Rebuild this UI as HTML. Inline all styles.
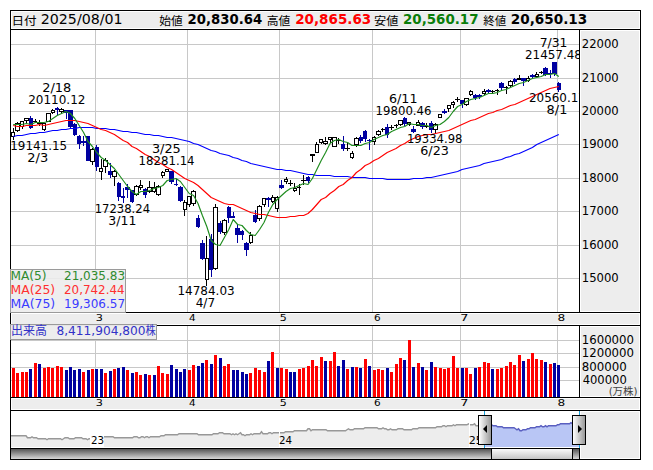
<!DOCTYPE html>
<html><head><meta charset="utf-8"><title>chart</title>
<style>html,body{margin:0;padding:0;background:#fff;width:653px;height:470px;overflow:hidden}</style>
</head><body>
<svg width="653" height="470" viewBox="0 0 653 470" style="display:block">
<defs><clipPath id="plot"><rect x="11" y="30" width="568" height="282"/></clipPath><clipPath id="vplot"><rect x="11" y="326" width="568" height="71"/></clipPath><linearGradient id="gd" x1="0" y1="0" x2="0" y2="1"><stop offset="0" stop-color="#555"/><stop offset="1" stop-color="#d8d8d8"/></linearGradient><linearGradient id="gl" x1="0" y1="0" x2="0" y2="1"><stop offset="0" stop-color="#fafafa"/><stop offset="1" stop-color="#c4c4c4"/></linearGradient><linearGradient id="gh" x1="0" y1="0" x2="1" y2="0"><stop offset="0" stop-color="#fff"/><stop offset="1" stop-color="#999"/></linearGradient></defs>
<rect x="0" y="0" width="653" height="470" fill="#fff" />
<g shape-rendering="crispEdges">
<rect x="11" y="11" width="629" height="18" fill="#fff" />
<rect x="12" y="12" width="627" height="16" fill="#ededed" />
<rect x="10" y="10" width="631" height="1" fill="#000" />
<rect x="10" y="459" width="631" height="1" fill="#000" />
<rect x="10" y="10" width="1" height="450" fill="#000" />
<rect x="640" y="10" width="1" height="450" fill="#000" />
<rect x="10" y="29" width="631" height="1" fill="#000" />
<rect x="580" y="30" width="60" height="282" fill="#fff" />
<rect x="581" y="31" width="58" height="280" fill="#ededed" />
<rect x="579" y="30" width="1" height="282" fill="#000" />
<rect x="11" y="44" width="568" height="1" fill="#c8c8c8" />
<rect x="11" y="78" width="568" height="1" fill="#c8c8c8" />
<rect x="11" y="111" width="568" height="1" fill="#c8c8c8" />
<rect x="11" y="144" width="568" height="1" fill="#c8c8c8" />
<rect x="11" y="178" width="568" height="1" fill="#c8c8c8" />
<rect x="11" y="211" width="568" height="1" fill="#c8c8c8" />
<rect x="11" y="245" width="568" height="1" fill="#c8c8c8" />
<rect x="11" y="278" width="568" height="1" fill="#c8c8c8" />
<rect x="95" y="30" width="1" height="282" fill="#c8c8c8" />
<rect x="187" y="30" width="1" height="282" fill="#c8c8c8" />
<rect x="279" y="30" width="1" height="282" fill="#c8c8c8" />
<rect x="372" y="30" width="1" height="282" fill="#c8c8c8" />
<rect x="460" y="30" width="1" height="282" fill="#c8c8c8" />
<rect x="557" y="30" width="1" height="282" fill="#c8c8c8" />
<rect x="11" y="312" width="629" height="1" fill="#000" />
<rect x="11" y="313" width="629" height="12" fill="#fff" />
<rect x="12" y="314" width="627" height="10" fill="#ededed" />
<rect x="11" y="325" width="629" height="1" fill="#000" />
<rect x="580" y="326" width="60" height="71" fill="#fff" />
<rect x="581" y="327" width="58" height="69" fill="#ededed" />
<rect x="579" y="326" width="1" height="71" fill="#000" />
<rect x="11" y="340" width="568" height="1" fill="#c8c8c8" />
<rect x="11" y="353" width="568" height="1" fill="#c8c8c8" />
<rect x="11" y="367" width="568" height="1" fill="#c8c8c8" />
<rect x="11" y="380" width="568" height="1" fill="#c8c8c8" />
<rect x="95" y="326" width="1" height="71" fill="#c8c8c8" />
<rect x="187" y="326" width="1" height="71" fill="#c8c8c8" />
<rect x="279" y="326" width="1" height="71" fill="#c8c8c8" />
<rect x="372" y="326" width="1" height="71" fill="#c8c8c8" />
<rect x="460" y="326" width="1" height="71" fill="#c8c8c8" />
<rect x="557" y="326" width="1" height="71" fill="#c8c8c8" />
<rect x="11" y="397" width="629" height="1" fill="#000" />
<rect x="11" y="398" width="629" height="12" fill="#fff" />
<rect x="12" y="399" width="627" height="10" fill="#ededed" />
<rect x="11" y="410" width="629" height="1" fill="#000" />
</g>
<polygon points="11.0,435.5 12.5,435.5 14.0,435.5 15.5,435.5 17.0,435.5 18.5,435.5 20.0,435.5 21.5,435.5 23.0,435.5 24.5,435.5 26.0,435.5 27.5,437.5 29.0,437.5 30.5,437.5 32.0,436.5 33.5,437.5 35.0,437.5 36.5,437.5 38.0,438.5 39.5,438.5 41.0,438.5 42.5,438.5 44.0,438.5 45.5,438.5 47.0,439.5 48.5,438.5 50.0,438.5 51.5,438.5 53.0,438.5 54.5,438.5 56.0,438.5 57.5,438.5 59.0,438.5 60.5,438.5 62.0,439.5 63.5,438.5 65.0,437.5 66.5,437.5 68.0,437.5 69.5,438.5 71.0,438.5 72.5,438.5 74.0,438.5 75.5,437.5 77.0,437.5 78.5,437.5 80.0,437.5 81.5,437.5 83.0,438.5 84.5,438.5 86.0,438.5 87.5,439.5 89.0,438.5 90.5,438.5 92.0,438.5 93.5,438.5 95.0,438.5 96.5,437.5 98.0,437.5 99.5,437.5 101.0,437.5 102.5,437.5 104.0,436.5 105.5,436.5 107.0,436.5 108.5,436.5 110.0,436.5 111.5,436.5 113.0,436.5 114.5,437.5 116.0,437.5 117.5,437.5 119.0,437.5 120.5,437.5 122.0,437.5 123.5,437.5 125.0,437.5 126.5,437.5 128.0,437.5 129.5,437.5 131.0,437.5 132.5,437.5 134.0,436.5 135.5,436.5 137.0,436.5 138.5,437.5 140.0,437.5 141.5,436.5 143.0,436.5 144.5,437.5 146.0,436.5 147.5,436.5 149.0,437.5 150.5,436.5 152.0,436.5 153.5,436.5 155.0,436.5 156.5,436.5 158.0,436.5 159.5,436.5 161.0,435.5 162.5,435.5 164.0,435.5 165.5,434.5 167.0,434.5 168.5,434.5 170.0,434.5 171.5,434.5 173.0,434.5 174.5,434.5 176.0,434.5 177.5,434.5 179.0,433.5 180.5,433.5 182.0,433.5 183.5,433.5 185.0,433.5 186.5,433.5 188.0,433.5 189.5,433.5 191.0,433.5 192.5,433.5 194.0,433.5 195.5,433.5 197.0,433.5 198.5,434.5 200.0,434.5 201.5,434.5 203.0,434.5 204.5,434.5 206.0,434.5 207.5,434.5 209.0,434.5 210.5,434.5 212.0,434.5 213.5,433.5 215.0,433.5 216.5,433.5 218.0,433.5 219.5,432.5 221.0,432.5 222.5,432.5 224.0,433.5 225.5,433.5 227.0,433.5 228.5,433.5 230.0,433.5 231.5,434.5 233.0,433.5 234.5,434.5 236.0,433.5 237.5,434.5 239.0,433.5 240.5,432.5 242.0,434.5 243.5,434.5 245.0,435.5 246.5,434.5 248.0,434.5 249.5,434.5 251.0,433.5 252.5,434.5 254.0,433.5 255.5,433.5 257.0,433.5 258.5,433.5 260.0,433.5 261.5,431.5 263.0,433.5 264.5,433.5 266.0,433.5 267.5,433.5 269.0,432.5 270.5,432.5 272.0,433.5 273.5,432.5 275.0,432.5 276.5,432.5 278.0,432.5 279.5,432.5 281.0,432.5 282.5,432.5 284.0,432.5 285.5,431.5 287.0,431.5 288.5,431.5 290.0,431.5 291.5,431.5 293.0,431.5 294.5,430.5 296.0,430.5 297.5,430.5 299.0,430.5 300.5,430.5 302.0,430.5 303.5,430.5 305.0,430.5 306.5,430.5 308.0,428.5 309.5,428.5 311.0,430.5 312.5,429.5 314.0,429.5 315.5,429.5 317.0,429.5 318.5,429.5 320.0,429.5 321.5,429.5 323.0,429.5 324.5,429.5 326.0,429.5 327.5,430.5 329.0,430.5 330.5,430.5 332.0,430.5 333.5,430.5 335.0,430.5 336.5,430.5 338.0,430.5 339.5,430.5 341.0,430.5 342.5,430.5 344.0,430.5 345.5,430.5 347.0,429.5 348.5,428.5 350.0,429.5 351.5,429.5 353.0,429.5 354.5,428.5 356.0,428.5 357.5,428.5 359.0,428.5 360.5,428.5 362.0,428.5 363.5,428.5 365.0,427.5 366.5,427.5 368.0,427.5 369.5,427.5 371.0,427.5 372.5,427.5 374.0,427.5 375.5,427.5 377.0,427.5 378.5,428.5 380.0,428.5 381.5,428.5 383.0,427.5 384.5,428.5 386.0,428.5 387.5,429.5 389.0,429.5 390.5,428.5 392.0,429.5 393.5,429.5 395.0,429.5 396.5,429.5 398.0,428.5 399.5,428.5 401.0,428.5 402.5,428.5 404.0,429.5 405.5,429.5 407.0,429.5 408.5,429.5 410.0,429.5 411.5,429.5 413.0,428.5 414.5,428.5 416.0,428.5 417.5,428.5 419.0,427.5 420.5,427.5 422.0,427.5 423.5,427.5 425.0,427.5 426.5,427.5 428.0,427.5 429.5,427.5 431.0,427.5 432.5,427.5 434.0,427.5 435.5,427.5 437.0,426.5 438.5,426.5 440.0,426.5 441.5,426.5 443.0,425.5 444.5,425.5 446.0,426.5 447.5,425.5 449.0,425.5 450.5,425.5 452.0,425.5 453.5,424.5 455.0,425.5 456.5,424.5 458.0,424.5 459.5,424.5 461.0,424.5 462.5,424.5 464.0,424.5 465.5,424.5 467.0,424.5 468.5,423.5 470.0,424.5 471.5,424.5 473.0,424.5 474.5,423.5 476.0,425.5 477.5,425.5 479.0,425.5 480.5,424.5 482.0,425.5 483.5,424.5 484.0,425.5 484,447 11,447" fill="#ededed"/>
<polyline points="11.0,435.75 12.5,435.75 14.0,435.75 15.5,435.75 17.0,435.75 18.5,435.75 20.0,435.75 21.5,435.75 23.0,435.75 24.5,435.75 26.0,435.75 27.5,437.75 29.0,437.75 30.5,437.75 32.0,436.75 33.5,437.75 35.0,437.75 36.5,437.75 38.0,438.75 39.5,438.75 41.0,438.75 42.5,438.75 44.0,438.75 45.5,438.75 47.0,439.75 48.5,438.75 50.0,438.75 51.5,438.75 53.0,438.75 54.5,438.75 56.0,438.75 57.5,438.75 59.0,438.75 60.5,438.75 62.0,439.75 63.5,438.75 65.0,437.75 66.5,437.75 68.0,437.75 69.5,438.75 71.0,438.75 72.5,438.75 74.0,438.75 75.5,437.75 77.0,437.75 78.5,437.75 80.0,437.75 81.5,437.75 83.0,438.75 84.5,438.75 86.0,438.75 87.5,439.75 89.0,438.75 90.5,438.75 92.0,438.75 93.5,438.75 95.0,438.75 96.5,437.75 98.0,437.75 99.5,437.75 101.0,437.75 102.5,437.75 104.0,436.75 105.5,436.75 107.0,436.75 108.5,436.75 110.0,436.75 111.5,436.75 113.0,436.75 114.5,437.75 116.0,437.75 117.5,437.75 119.0,437.75 120.5,437.75 122.0,437.75 123.5,437.75 125.0,437.75 126.5,437.75 128.0,437.75 129.5,437.75 131.0,437.75 132.5,437.75 134.0,436.75 135.5,436.75 137.0,436.75 138.5,437.75 140.0,437.75 141.5,436.75 143.0,436.75 144.5,437.75 146.0,436.75 147.5,436.75 149.0,437.75 150.5,436.75 152.0,436.75 153.5,436.75 155.0,436.75 156.5,436.75 158.0,436.75 159.5,436.75 161.0,435.75 162.5,435.75 164.0,435.75 165.5,434.75 167.0,434.75 168.5,434.75 170.0,434.75 171.5,434.75 173.0,434.75 174.5,434.75 176.0,434.75 177.5,434.75 179.0,433.75 180.5,433.75 182.0,433.75 183.5,433.75 185.0,433.75 186.5,433.75 188.0,433.75 189.5,433.75 191.0,433.75 192.5,433.75 194.0,433.75 195.5,433.75 197.0,433.75 198.5,434.75 200.0,434.75 201.5,434.75 203.0,434.75 204.5,434.75 206.0,434.75 207.5,434.75 209.0,434.75 210.5,434.75 212.0,434.75 213.5,433.75 215.0,433.75 216.5,433.75 218.0,433.75 219.5,432.75 221.0,432.75 222.5,432.75 224.0,433.75 225.5,433.75 227.0,433.75 228.5,433.75 230.0,433.75 231.5,434.75 233.0,433.75 234.5,434.75 236.0,433.75 237.5,434.75 239.0,433.75 240.5,432.75 242.0,434.75 243.5,434.75 245.0,435.75 246.5,434.75 248.0,434.75 249.5,434.75 251.0,433.75 252.5,434.75 254.0,433.75 255.5,433.75 257.0,433.75 258.5,433.75 260.0,433.75 261.5,431.75 263.0,433.75 264.5,433.75 266.0,433.75 267.5,433.75 269.0,432.75 270.5,432.75 272.0,433.75 273.5,432.75 275.0,432.75 276.5,432.75 278.0,432.75 279.5,432.75 281.0,432.75 282.5,432.75 284.0,432.75 285.5,431.75 287.0,431.75 288.5,431.75 290.0,431.75 291.5,431.75 293.0,431.75 294.5,430.75 296.0,430.75 297.5,430.75 299.0,430.75 300.5,430.75 302.0,430.75 303.5,430.75 305.0,430.75 306.5,430.75 308.0,428.75 309.5,428.75 311.0,430.75 312.5,429.75 314.0,429.75 315.5,429.75 317.0,429.75 318.5,429.75 320.0,429.75 321.5,429.75 323.0,429.75 324.5,429.75 326.0,429.75 327.5,430.75 329.0,430.75 330.5,430.75 332.0,430.75 333.5,430.75 335.0,430.75 336.5,430.75 338.0,430.75 339.5,430.75 341.0,430.75 342.5,430.75 344.0,430.75 345.5,430.75 347.0,429.75 348.5,428.75 350.0,429.75 351.5,429.75 353.0,429.75 354.5,428.75 356.0,428.75 357.5,428.75 359.0,428.75 360.5,428.75 362.0,428.75 363.5,428.75 365.0,427.75 366.5,427.75 368.0,427.75 369.5,427.75 371.0,427.75 372.5,427.75 374.0,427.75 375.5,427.75 377.0,427.75 378.5,428.75 380.0,428.75 381.5,428.75 383.0,427.75 384.5,428.75 386.0,428.75 387.5,429.75 389.0,429.75 390.5,428.75 392.0,429.75 393.5,429.75 395.0,429.75 396.5,429.75 398.0,428.75 399.5,428.75 401.0,428.75 402.5,428.75 404.0,429.75 405.5,429.75 407.0,429.75 408.5,429.75 410.0,429.75 411.5,429.75 413.0,428.75 414.5,428.75 416.0,428.75 417.5,428.75 419.0,427.75 420.5,427.75 422.0,427.75 423.5,427.75 425.0,427.75 426.5,427.75 428.0,427.75 429.5,427.75 431.0,427.75 432.5,427.75 434.0,427.75 435.5,427.75 437.0,426.75 438.5,426.75 440.0,426.75 441.5,426.75 443.0,425.75 444.5,425.75 446.0,426.75 447.5,425.75 449.0,425.75 450.5,425.75 452.0,425.75 453.5,424.75 455.0,425.75 456.5,424.75 458.0,424.75 459.5,424.75 461.0,424.75 462.5,424.75 464.0,424.75 465.5,424.75 467.0,424.75 468.5,423.75 470.0,424.75 471.5,424.75 473.0,424.75 474.5,423.75 476.0,425.75 477.5,425.75 479.0,425.75 480.5,424.75 482.0,425.75 483.5,424.75 484.0,425.75" fill="none" stroke="#989898" stroke-width="1.4"/>
<polygon points="484.0,424.5 485.5,424.5 487.0,424.5 488.5,424.5 490.0,424.5 491.5,424.5 493.0,425.5 494.5,425.5 496.0,425.5 497.5,426.5 499.0,426.5 500.5,426.5 502.0,426.5 503.5,427.5 505.0,427.5 506.5,427.5 508.0,427.5 509.5,427.5 511.0,427.5 512.5,427.5 514.0,427.5 515.5,428.5 517.0,429.5 518.5,428.5 520.0,430.5 521.5,430.5 523.0,429.5 524.5,429.5 526.0,429.5 527.5,428.5 529.0,428.5 530.5,427.5 532.0,427.5 533.5,427.5 535.0,427.5 536.5,426.5 538.0,426.5 539.5,426.5 541.0,425.5 542.5,426.5 544.0,426.5 545.5,425.5 547.0,426.5 548.5,425.5 550.0,425.5 551.5,425.5 553.0,425.5 554.5,425.5 556.0,425.5 557.5,424.5 559.0,424.5 560.5,423.5 562.0,423.5 563.5,423.5 565.0,423.5 566.5,423.5 568.0,423.5 569.5,423.5 571.0,422.5 572.5,423.5 574.0,423.5 575.5,422.5 577.0,422.5 578.5,423.5 579.0,423.5 579,448 485,448" fill="#b9c6f5"/>
<polyline points="484.0,424.75 485.5,424.75 487.0,424.75 488.5,424.75 490.0,424.75 491.5,424.75 493.0,425.75 494.5,425.75 496.0,425.75 497.5,426.75 499.0,426.75 500.5,426.75 502.0,426.75 503.5,427.75 505.0,427.75 506.5,427.75 508.0,427.75 509.5,427.75 511.0,427.75 512.5,427.75 514.0,427.75 515.5,428.75 517.0,429.75 518.5,428.75 520.0,430.75 521.5,430.75 523.0,429.75 524.5,429.75 526.0,429.75 527.5,428.75 529.0,428.75 530.5,427.75 532.0,427.75 533.5,427.75 535.0,427.75 536.5,426.75 538.0,426.75 539.5,426.75 541.0,425.75 542.5,426.75 544.0,426.75 545.5,425.75 547.0,426.75 548.5,425.75 550.0,425.75 551.5,425.75 553.0,425.75 554.5,425.75 556.0,425.75 557.5,424.75 559.0,424.75 560.5,423.75 562.0,423.75 563.5,423.75 565.0,423.75 566.5,423.75 568.0,423.75 569.5,423.75 571.0,422.75 572.5,423.75 574.0,423.75 575.5,422.75 577.0,422.75 578.5,423.75 579.0,423.75" fill="none" stroke="#5a5fc0" stroke-width="1.5"/>
<g shape-rendering="crispEdges">
<rect x="580" y="411" width="60" height="48" fill="#fff" />
<rect x="581" y="412" width="58" height="46" fill="#ededed" />
<rect x="11" y="447" width="568" height="1" fill="#fff" />
<rect x="90" y="412" width="1" height="35" fill="#fff" />
<rect x="279" y="412" width="1" height="35" fill="#fff" />
<rect x="469" y="412" width="1" height="35" fill="#fff" />
<rect x="90" y="435" width="14" height="12" fill="#fff" />
</g>
<g shape-rendering="crispEdges" clip-path="url(#vplot)">
<rect x="12" y="368" width="3" height="29" fill="#ff0000" />
<rect x="16" y="373" width="3" height="24" fill="#ff0000" />
<rect x="21" y="372" width="3" height="25" fill="#ff0000" />
<rect x="25" y="372" width="3" height="25" fill="#ff0000" />
<rect x="29" y="369" width="3" height="28" fill="#0000a0" />
<rect x="34" y="363" width="3" height="34" fill="#ff0000" />
<rect x="38" y="364" width="3" height="33" fill="#0000a0" />
<rect x="43" y="368" width="3" height="29" fill="#ff0000" />
<rect x="47" y="367" width="3" height="30" fill="#ff0000" />
<rect x="51" y="368" width="3" height="29" fill="#ff0000" />
<rect x="56" y="366" width="3" height="31" fill="#ff0000" />
<rect x="60" y="367" width="3" height="30" fill="#ff0000" />
<rect x="65" y="370" width="3" height="27" fill="#0000a0" />
<rect x="69" y="367" width="3" height="30" fill="#0000a0" />
<rect x="73" y="370" width="3" height="27" fill="#0000a0" />
<rect x="78" y="369" width="3" height="28" fill="#0000a0" />
<rect x="82" y="372" width="3" height="25" fill="#ff0000" />
<rect x="87" y="370" width="3" height="27" fill="#0000a0" />
<rect x="91" y="369" width="3" height="28" fill="#ff0000" />
<rect x="95" y="369" width="3" height="28" fill="#0000a0" />
<rect x="100" y="369" width="3" height="28" fill="#0000a0" />
<rect x="104" y="373" width="3" height="24" fill="#ff0000" />
<rect x="109" y="371" width="3" height="26" fill="#0000a0" />
<rect x="113" y="369" width="3" height="28" fill="#ff0000" />
<rect x="117" y="368" width="3" height="29" fill="#0000a0" />
<rect x="122" y="367" width="3" height="30" fill="#0000a0" />
<rect x="126" y="370" width="3" height="27" fill="#ff0000" />
<rect x="131" y="373" width="3" height="24" fill="#0000a0" />
<rect x="135" y="372" width="3" height="25" fill="#ff0000" />
<rect x="139" y="375" width="3" height="22" fill="#ff0000" />
<rect x="144" y="374" width="3" height="23" fill="#0000a0" />
<rect x="148" y="375" width="3" height="22" fill="#ff0000" />
<rect x="153" y="375" width="3" height="22" fill="#0000a0" />
<rect x="157" y="366" width="3" height="31" fill="#ff0000" />
<rect x="161" y="373" width="3" height="24" fill="#ff0000" />
<rect x="166" y="374" width="3" height="23" fill="#ff0000" />
<rect x="170" y="365" width="3" height="32" fill="#0000a0" />
<rect x="175" y="369" width="3" height="28" fill="#0000a0" />
<rect x="179" y="372" width="3" height="25" fill="#0000a0" />
<rect x="183" y="369" width="3" height="28" fill="#0000a0" />
<rect x="188" y="370" width="3" height="27" fill="#ff0000" />
<rect x="192" y="365" width="3" height="32" fill="#ff0000" />
<rect x="197" y="366" width="3" height="31" fill="#0000a0" />
<rect x="201" y="363" width="3" height="34" fill="#0000a0" />
<rect x="205" y="360" width="3" height="37" fill="#ff0000" />
<rect x="210" y="364" width="3" height="33" fill="#0000a0" />
<rect x="214" y="355" width="3" height="42" fill="#ff0000" />
<rect x="219" y="358" width="3" height="39" fill="#0000a0" />
<rect x="223" y="366" width="3" height="31" fill="#ff0000" />
<rect x="227" y="364" width="3" height="33" fill="#ff0000" />
<rect x="232" y="370" width="3" height="27" fill="#0000a0" />
<rect x="236" y="370" width="3" height="27" fill="#0000a0" />
<rect x="241" y="372" width="3" height="25" fill="#0000a0" />
<rect x="245" y="374" width="3" height="23" fill="#0000a0" />
<rect x="249" y="373" width="3" height="24" fill="#ff0000" />
<rect x="254" y="368" width="3" height="29" fill="#ff0000" />
<rect x="258" y="370" width="3" height="27" fill="#ff0000" />
<rect x="263" y="372" width="3" height="25" fill="#ff0000" />
<rect x="267" y="361" width="3" height="36" fill="#0000a0" />
<rect x="271" y="352" width="3" height="45" fill="#ff0000" />
<rect x="276" y="368" width="3" height="29" fill="#0000a0" />
<rect x="280" y="368" width="3" height="29" fill="#ff0000" />
<rect x="285" y="369" width="3" height="28" fill="#ff0000" />
<rect x="289" y="372" width="3" height="25" fill="#0000a0" />
<rect x="293" y="372" width="3" height="25" fill="#0000a0" />
<rect x="298" y="369" width="3" height="28" fill="#ff0000" />
<rect x="302" y="368" width="3" height="29" fill="#ff0000" />
<rect x="307" y="366" width="3" height="31" fill="#ff0000" />
<rect x="311" y="360" width="3" height="37" fill="#ff0000" />
<rect x="315" y="366" width="3" height="31" fill="#ff0000" />
<rect x="320" y="357" width="3" height="40" fill="#ff0000" />
<rect x="324" y="361" width="3" height="36" fill="#0000a0" />
<rect x="329" y="361" width="3" height="36" fill="#ff0000" />
<rect x="333" y="352" width="3" height="45" fill="#ff0000" />
<rect x="337" y="366" width="3" height="31" fill="#0000a0" />
<rect x="342" y="360" width="3" height="37" fill="#0000a0" />
<rect x="346" y="369" width="3" height="28" fill="#ff0000" />
<rect x="351" y="367" width="3" height="30" fill="#0000a0" />
<rect x="355" y="367" width="3" height="30" fill="#ff0000" />
<rect x="359" y="368" width="3" height="29" fill="#0000a0" />
<rect x="364" y="359" width="3" height="38" fill="#ff0000" />
<rect x="368" y="366" width="3" height="31" fill="#0000a0" />
<rect x="373" y="370" width="3" height="27" fill="#ff0000" />
<rect x="377" y="369" width="3" height="28" fill="#ff0000" />
<rect x="381" y="370" width="3" height="27" fill="#ff0000" />
<rect x="386" y="368" width="3" height="29" fill="#0000a0" />
<rect x="390" y="372" width="3" height="25" fill="#ff0000" />
<rect x="395" y="364" width="3" height="33" fill="#ff0000" />
<rect x="399" y="358" width="3" height="39" fill="#ff0000" />
<rect x="403" y="360" width="3" height="37" fill="#0000a0" />
<rect x="408" y="340" width="3" height="57" fill="#ff0000" />
<rect x="412" y="367" width="3" height="30" fill="#0000a0" />
<rect x="417" y="363" width="3" height="34" fill="#ff0000" />
<rect x="421" y="367" width="3" height="30" fill="#0000a0" />
<rect x="425" y="370" width="3" height="27" fill="#ff0000" />
<rect x="430" y="362" width="3" height="35" fill="#0000a0" />
<rect x="434" y="367" width="3" height="30" fill="#ff0000" />
<rect x="439" y="368" width="3" height="29" fill="#ff0000" />
<rect x="443" y="369" width="3" height="28" fill="#ff0000" />
<rect x="447" y="368" width="3" height="29" fill="#ff0000" />
<rect x="452" y="356" width="3" height="41" fill="#ff0000" />
<rect x="456" y="368" width="3" height="29" fill="#ff0000" />
<rect x="461" y="368" width="3" height="29" fill="#0000a0" />
<rect x="465" y="368" width="3" height="29" fill="#ff0000" />
<rect x="469" y="374" width="3" height="23" fill="#ff0000" />
<rect x="474" y="368" width="3" height="29" fill="#0000a0" />
<rect x="478" y="367" width="3" height="30" fill="#ff0000" />
<rect x="483" y="362" width="3" height="35" fill="#ff0000" />
<rect x="487" y="363" width="3" height="34" fill="#ff0000" />
<rect x="491" y="369" width="3" height="28" fill="#0000a0" />
<rect x="496" y="369" width="3" height="28" fill="#ff0000" />
<rect x="500" y="368" width="3" height="29" fill="#ff0000" />
<rect x="505" y="366" width="3" height="31" fill="#ff0000" />
<rect x="509" y="362" width="3" height="35" fill="#ff0000" />
<rect x="513" y="365" width="3" height="32" fill="#ff0000" />
<rect x="518" y="355" width="3" height="42" fill="#ff0000" />
<rect x="522" y="361" width="3" height="36" fill="#0000a0" />
<rect x="527" y="359" width="3" height="38" fill="#ff0000" />
<rect x="531" y="353" width="3" height="44" fill="#ff0000" />
<rect x="535" y="359" width="3" height="38" fill="#ff0000" />
<rect x="540" y="360" width="3" height="37" fill="#ff0000" />
<rect x="544" y="362" width="3" height="35" fill="#0000a0" />
<rect x="549" y="364" width="3" height="33" fill="#ff0000" />
<rect x="553" y="363" width="3" height="34" fill="#0000a0" />
<rect x="557" y="365" width="3" height="32" fill="#0000a0" />
</g>
<g shape-rendering="crispEdges" clip-path="url(#plot)">
<rect x="13" y="128" width="1" height="4" fill="#000" />
<rect x="13" y="137" width="1" height="3" fill="#000" />
<rect x="11" y="132" width="4" height="5" fill="#000" />
<rect x="12" y="133" width="2" height="3" fill="#fff" />
<rect x="17" y="122" width="1" height="1" fill="#000" />
<rect x="17" y="131" width="1" height="1" fill="#000" />
<rect x="15" y="123" width="5" height="8" fill="#000" />
<rect x="16" y="124" width="3" height="6" fill="#fff" />
<rect x="22" y="127" width="1" height="2" fill="#000" />
<rect x="20" y="121" width="4" height="6" fill="#000" />
<rect x="21" y="122" width="2" height="4" fill="#fff" />
<rect x="26" y="121" width="1" height="3" fill="#000" />
<rect x="24" y="118" width="5" height="3" fill="#000" />
<rect x="25" y="119" width="3" height="1" fill="#fff" />
<rect x="30" y="116" width="1" height="2" fill="#0000a0" />
<rect x="30" y="128" width="1" height="1" fill="#0000a0" />
<rect x="29" y="118" width="4" height="10" fill="#0000a0" />
<rect x="35" y="119" width="1" height="2" fill="#000" />
<rect x="35" y="122" width="1" height="1" fill="#000" />
<rect x="33" y="121" width="4" height="1" fill="#000" />
<rect x="39" y="120" width="1" height="3" fill="#000" />
<rect x="39" y="124" width="1" height="2" fill="#000" />
<rect x="37" y="123" width="5" height="1" fill="#000" />
<rect x="44" y="130" width="1" height="1" fill="#000" />
<rect x="42" y="123" width="4" height="7" fill="#000" />
<rect x="43" y="124" width="2" height="5" fill="#fff" />
<rect x="46" y="113" width="5" height="9" fill="#000" />
<rect x="47" y="114" width="3" height="7" fill="#fff" />
<rect x="52" y="109" width="1" height="1" fill="#000" />
<rect x="52" y="113" width="1" height="1" fill="#000" />
<rect x="51" y="110" width="4" height="3" fill="#000" />
<rect x="52" y="111" width="2" height="1" fill="#fff" />
<rect x="57" y="107" width="1" height="1" fill="#0000a0" />
<rect x="57" y="110" width="1" height="5" fill="#0000a0" />
<rect x="55" y="108" width="4" height="2" fill="#0000a0" />
<rect x="61" y="108" width="1" height="1" fill="#000" />
<rect x="61" y="112" width="1" height="1" fill="#000" />
<rect x="59" y="109" width="5" height="3" fill="#000" />
<rect x="60" y="110" width="3" height="1" fill="#fff" />
<rect x="66" y="113" width="1" height="6" fill="#0000a0" />
<rect x="64" y="110" width="4" height="3" fill="#0000a0" />
<rect x="70" y="127" width="1" height="1" fill="#0000a0" />
<rect x="68" y="110" width="5" height="17" fill="#0000a0" />
<rect x="74" y="123" width="1" height="1" fill="#0000a0" />
<rect x="74" y="135" width="1" height="1" fill="#0000a0" />
<rect x="73" y="124" width="4" height="11" fill="#0000a0" />
<rect x="79" y="135" width="1" height="1" fill="#0000a0" />
<rect x="79" y="144" width="1" height="5" fill="#0000a0" />
<rect x="77" y="136" width="4" height="8" fill="#0000a0" />
<rect x="83" y="136" width="1" height="5" fill="#0000a0" />
<rect x="83" y="143" width="1" height="3" fill="#0000a0" />
<rect x="81" y="141" width="5" height="2" fill="#0000a0" />
<rect x="86" y="136" width="4" height="25" fill="#0000a0" />
<rect x="92" y="148" width="1" height="1" fill="#000" />
<rect x="92" y="162" width="1" height="3" fill="#000" />
<rect x="90" y="149" width="5" height="13" fill="#000" />
<rect x="91" y="150" width="3" height="11" fill="#fff" />
<rect x="96" y="145" width="1" height="2" fill="#0000a0" />
<rect x="96" y="167" width="1" height="4" fill="#0000a0" />
<rect x="95" y="147" width="4" height="20" fill="#0000a0" />
<rect x="101" y="159" width="1" height="9" fill="#000" />
<rect x="101" y="172" width="1" height="8" fill="#000" />
<rect x="99" y="168" width="4" height="4" fill="#000" />
<rect x="100" y="169" width="2" height="2" fill="#fff" />
<rect x="105" y="158" width="1" height="2" fill="#000" />
<rect x="105" y="167" width="1" height="6" fill="#000" />
<rect x="103" y="160" width="5" height="7" fill="#000" />
<rect x="104" y="161" width="3" height="5" fill="#fff" />
<rect x="110" y="163" width="1" height="8" fill="#0000a0" />
<rect x="110" y="175" width="1" height="3" fill="#0000a0" />
<rect x="108" y="171" width="4" height="4" fill="#0000a0" />
<rect x="114" y="170" width="1" height="1" fill="#000" />
<rect x="114" y="177" width="1" height="9" fill="#000" />
<rect x="112" y="171" width="5" height="6" fill="#000" />
<rect x="113" y="172" width="3" height="4" fill="#fff" />
<rect x="118" y="182" width="1" height="1" fill="#0000a0" />
<rect x="118" y="197" width="1" height="4" fill="#0000a0" />
<rect x="117" y="183" width="4" height="14" fill="#0000a0" />
<rect x="123" y="188" width="1" height="8" fill="#0000a0" />
<rect x="123" y="198" width="1" height="5" fill="#0000a0" />
<rect x="121" y="196" width="4" height="2" fill="#0000a0" />
<rect x="127" y="184" width="1" height="3" fill="#0000a0" />
<rect x="127" y="190" width="1" height="8" fill="#0000a0" />
<rect x="125" y="187" width="5" height="3" fill="#0000a0" />
<rect x="132" y="202" width="1" height="1" fill="#0000a0" />
<rect x="130" y="190" width="4" height="12" fill="#0000a0" />
<rect x="136" y="185" width="1" height="1" fill="#000" />
<rect x="136" y="195" width="1" height="1" fill="#000" />
<rect x="134" y="186" width="5" height="9" fill="#000" />
<rect x="135" y="187" width="3" height="7" fill="#fff" />
<rect x="140" y="180" width="1" height="5" fill="#000" />
<rect x="140" y="188" width="1" height="2" fill="#000" />
<rect x="139" y="185" width="4" height="3" fill="#000" />
<rect x="140" y="186" width="2" height="1" fill="#fff" />
<rect x="145" y="188" width="1" height="1" fill="#0000a0" />
<rect x="145" y="195" width="1" height="3" fill="#0000a0" />
<rect x="143" y="189" width="4" height="6" fill="#0000a0" />
<rect x="149" y="181" width="1" height="6" fill="#000" />
<rect x="149" y="192" width="1" height="1" fill="#000" />
<rect x="147" y="187" width="5" height="5" fill="#000" />
<rect x="148" y="188" width="3" height="3" fill="#fff" />
<rect x="154" y="182" width="1" height="5" fill="#000" />
<rect x="154" y="192" width="1" height="1" fill="#000" />
<rect x="152" y="187" width="4" height="5" fill="#000" />
<rect x="153" y="188" width="2" height="3" fill="#fff" />
<rect x="158" y="185" width="1" height="1" fill="#000" />
<rect x="158" y="195" width="1" height="1" fill="#000" />
<rect x="156" y="186" width="5" height="9" fill="#000" />
<rect x="157" y="187" width="3" height="7" fill="#fff" />
<rect x="162" y="171" width="1" height="1" fill="#000" />
<rect x="162" y="176" width="1" height="2" fill="#000" />
<rect x="161" y="172" width="4" height="4" fill="#000" />
<rect x="162" y="173" width="2" height="2" fill="#fff" />
<rect x="165" y="169" width="4" height="3" fill="#000" />
<rect x="166" y="170" width="2" height="1" fill="#fff" />
<rect x="171" y="182" width="1" height="2" fill="#0000a0" />
<rect x="169" y="171" width="5" height="11" fill="#0000a0" />
<rect x="176" y="179" width="1" height="5" fill="#0000a0" />
<rect x="176" y="185" width="1" height="1" fill="#0000a0" />
<rect x="174" y="184" width="4" height="1" fill="#0000a0" />
<rect x="180" y="186" width="1" height="1" fill="#0000a0" />
<rect x="180" y="201" width="1" height="1" fill="#0000a0" />
<rect x="178" y="187" width="5" height="14" fill="#0000a0" />
<rect x="184" y="200" width="1" height="2" fill="#000" />
<rect x="184" y="210" width="1" height="6" fill="#000" />
<rect x="183" y="202" width="4" height="8" fill="#000" />
<rect x="184" y="203" width="2" height="6" fill="#fff" />
<rect x="189" y="205" width="1" height="2" fill="#000" />
<rect x="187" y="196" width="4" height="9" fill="#000" />
<rect x="188" y="197" width="2" height="7" fill="#fff" />
<rect x="193" y="190" width="1" height="1" fill="#000" />
<rect x="193" y="204" width="1" height="2" fill="#000" />
<rect x="191" y="191" width="5" height="13" fill="#000" />
<rect x="192" y="192" width="3" height="11" fill="#fff" />
<rect x="198" y="215" width="1" height="3" fill="#0000a0" />
<rect x="198" y="227" width="1" height="1" fill="#0000a0" />
<rect x="196" y="218" width="4" height="9" fill="#0000a0" />
<rect x="202" y="240" width="1" height="3" fill="#0000a0" />
<rect x="202" y="259" width="1" height="1" fill="#0000a0" />
<rect x="200" y="243" width="5" height="16" fill="#0000a0" />
<rect x="206" y="236" width="1" height="22" fill="#000" />
<rect x="206" y="280" width="1" height="6" fill="#000" />
<rect x="205" y="258" width="4" height="22" fill="#000" />
<rect x="206" y="259" width="2" height="20" fill="#fff" />
<rect x="211" y="234" width="1" height="5" fill="#0000a0" />
<rect x="211" y="270" width="1" height="7" fill="#0000a0" />
<rect x="209" y="239" width="4" height="31" fill="#0000a0" />
<rect x="215" y="204" width="1" height="3" fill="#000" />
<rect x="215" y="269" width="1" height="1" fill="#000" />
<rect x="213" y="207" width="5" height="62" fill="#000" />
<rect x="214" y="208" width="3" height="60" fill="#fff" />
<rect x="220" y="221" width="1" height="2" fill="#0000a0" />
<rect x="220" y="232" width="1" height="2" fill="#0000a0" />
<rect x="218" y="223" width="4" height="9" fill="#0000a0" />
<rect x="224" y="219" width="1" height="1" fill="#000" />
<rect x="224" y="233" width="1" height="2" fill="#000" />
<rect x="222" y="220" width="5" height="13" fill="#000" />
<rect x="223" y="221" width="3" height="11" fill="#fff" />
<rect x="228" y="206" width="1" height="1" fill="#0000a0" />
<rect x="228" y="218" width="1" height="5" fill="#0000a0" />
<rect x="227" y="207" width="4" height="11" fill="#0000a0" />
<rect x="233" y="212" width="1" height="4" fill="#0000a0" />
<rect x="231" y="216" width="4" height="2" fill="#0000a0" />
<rect x="237" y="225" width="1" height="3" fill="#0000a0" />
<rect x="237" y="235" width="1" height="8" fill="#0000a0" />
<rect x="235" y="228" width="5" height="7" fill="#0000a0" />
<rect x="242" y="230" width="1" height="1" fill="#0000a0" />
<rect x="242" y="235" width="1" height="5" fill="#0000a0" />
<rect x="240" y="231" width="4" height="4" fill="#0000a0" />
<rect x="246" y="242" width="1" height="1" fill="#0000a0" />
<rect x="246" y="250" width="1" height="6" fill="#0000a0" />
<rect x="244" y="243" width="5" height="7" fill="#0000a0" />
<rect x="250" y="232" width="1" height="3" fill="#000" />
<rect x="250" y="243" width="1" height="1" fill="#000" />
<rect x="249" y="235" width="4" height="8" fill="#000" />
<rect x="250" y="236" width="2" height="6" fill="#fff" />
<rect x="255" y="210" width="1" height="5" fill="#0000a0" />
<rect x="255" y="222" width="1" height="1" fill="#0000a0" />
<rect x="253" y="215" width="4" height="7" fill="#0000a0" />
<rect x="259" y="205" width="1" height="1" fill="#000" />
<rect x="259" y="219" width="1" height="2" fill="#000" />
<rect x="257" y="206" width="5" height="13" fill="#000" />
<rect x="258" y="207" width="3" height="11" fill="#fff" />
<rect x="264" y="205" width="1" height="2" fill="#000" />
<rect x="262" y="198" width="4" height="7" fill="#000" />
<rect x="263" y="199" width="2" height="5" fill="#fff" />
<rect x="268" y="197" width="1" height="1" fill="#0000a0" />
<rect x="268" y="200" width="1" height="7" fill="#0000a0" />
<rect x="266" y="198" width="5" height="2" fill="#0000a0" />
<rect x="272" y="195" width="1" height="2" fill="#000" />
<rect x="272" y="202" width="1" height="1" fill="#000" />
<rect x="271" y="197" width="4" height="5" fill="#000" />
<rect x="272" y="198" width="2" height="3" fill="#fff" />
<rect x="277" y="196" width="1" height="1" fill="#000" />
<rect x="277" y="209" width="1" height="3" fill="#000" />
<rect x="275" y="197" width="4" height="12" fill="#000" />
<rect x="276" y="198" width="2" height="10" fill="#fff" />
<rect x="281" y="180" width="1" height="5" fill="#0000a0" />
<rect x="281" y="188" width="1" height="1" fill="#0000a0" />
<rect x="279" y="185" width="5" height="3" fill="#0000a0" />
<rect x="286" y="177" width="1" height="2" fill="#000" />
<rect x="286" y="182" width="1" height="2" fill="#000" />
<rect x="284" y="179" width="4" height="3" fill="#000" />
<rect x="285" y="180" width="2" height="1" fill="#fff" />
<rect x="290" y="180" width="1" height="3" fill="#000" />
<rect x="290" y="184" width="1" height="2" fill="#000" />
<rect x="288" y="183" width="5" height="1" fill="#000" />
<rect x="294" y="183" width="1" height="5" fill="#000" />
<rect x="294" y="191" width="1" height="1" fill="#000" />
<rect x="293" y="188" width="4" height="3" fill="#000" />
<rect x="294" y="189" width="2" height="1" fill="#fff" />
<rect x="299" y="184" width="1" height="3" fill="#000" />
<rect x="299" y="188" width="1" height="7" fill="#000" />
<rect x="297" y="187" width="4" height="1" fill="#000" />
<rect x="303" y="175" width="1" height="5" fill="#000" />
<rect x="303" y="181" width="1" height="4" fill="#000" />
<rect x="301" y="180" width="5" height="1" fill="#000" />
<rect x="308" y="176" width="1" height="1" fill="#0000a0" />
<rect x="308" y="181" width="1" height="2" fill="#0000a0" />
<rect x="306" y="177" width="4" height="4" fill="#0000a0" />
<rect x="312" y="156" width="1" height="6" fill="#000" />
<rect x="310" y="154" width="5" height="2" fill="#000" />
<rect x="316" y="142" width="1" height="2" fill="#000" />
<rect x="315" y="144" width="4" height="9" fill="#000" />
<rect x="316" y="145" width="2" height="7" fill="#fff" />
<rect x="321" y="143" width="1" height="1" fill="#000" />
<rect x="319" y="139" width="4" height="4" fill="#000" />
<rect x="320" y="140" width="2" height="2" fill="#fff" />
<rect x="325" y="137" width="1" height="4" fill="#000" />
<rect x="325" y="144" width="1" height="1" fill="#000" />
<rect x="323" y="141" width="5" height="3" fill="#000" />
<rect x="324" y="142" width="3" height="1" fill="#fff" />
<rect x="330" y="140" width="1" height="3" fill="#000" />
<rect x="328" y="137" width="4" height="3" fill="#000" />
<rect x="329" y="138" width="2" height="1" fill="#fff" />
<rect x="332" y="137" width="5" height="10" fill="#000" />
<rect x="333" y="138" width="3" height="8" fill="#fff" />
<rect x="338" y="138" width="1" height="2" fill="#000" />
<rect x="338" y="141" width="1" height="3" fill="#000" />
<rect x="337" y="140" width="4" height="1" fill="#000" />
<rect x="343" y="136" width="1" height="8" fill="#0000a0" />
<rect x="343" y="149" width="1" height="2" fill="#0000a0" />
<rect x="341" y="144" width="4" height="5" fill="#0000a0" />
<rect x="347" y="142" width="1" height="6" fill="#000" />
<rect x="347" y="149" width="1" height="2" fill="#000" />
<rect x="345" y="148" width="5" height="1" fill="#000" />
<rect x="352" y="151" width="1" height="2" fill="#000" />
<rect x="352" y="158" width="1" height="1" fill="#000" />
<rect x="350" y="153" width="4" height="5" fill="#000" />
<rect x="351" y="154" width="2" height="3" fill="#fff" />
<rect x="356" y="137" width="1" height="1" fill="#000" />
<rect x="356" y="145" width="1" height="2" fill="#000" />
<rect x="354" y="138" width="5" height="7" fill="#000" />
<rect x="355" y="139" width="3" height="5" fill="#fff" />
<rect x="360" y="135" width="1" height="2" fill="#0000a0" />
<rect x="360" y="141" width="1" height="2" fill="#0000a0" />
<rect x="359" y="137" width="4" height="4" fill="#0000a0" />
<rect x="365" y="130" width="1" height="1" fill="#0000a0" />
<rect x="365" y="139" width="1" height="3" fill="#0000a0" />
<rect x="363" y="131" width="4" height="8" fill="#0000a0" />
<rect x="369" y="139" width="1" height="1" fill="#0000a0" />
<rect x="369" y="141" width="1" height="9" fill="#0000a0" />
<rect x="367" y="140" width="5" height="1" fill="#0000a0" />
<rect x="374" y="136" width="1" height="1" fill="#000" />
<rect x="374" y="142" width="1" height="3" fill="#000" />
<rect x="372" y="137" width="4" height="5" fill="#000" />
<rect x="373" y="138" width="2" height="3" fill="#fff" />
<rect x="378" y="130" width="1" height="1" fill="#000" />
<rect x="378" y="135" width="1" height="1" fill="#000" />
<rect x="376" y="131" width="5" height="4" fill="#000" />
<rect x="377" y="132" width="3" height="2" fill="#fff" />
<rect x="382" y="128" width="1" height="1" fill="#000" />
<rect x="382" y="130" width="1" height="2" fill="#000" />
<rect x="381" y="129" width="4" height="1" fill="#000" />
<rect x="387" y="124" width="1" height="3" fill="#0000a0" />
<rect x="387" y="135" width="1" height="3" fill="#0000a0" />
<rect x="385" y="127" width="4" height="8" fill="#0000a0" />
<rect x="391" y="125" width="1" height="2" fill="#000" />
<rect x="391" y="128" width="1" height="2" fill="#000" />
<rect x="389" y="127" width="5" height="1" fill="#000" />
<rect x="396" y="124" width="1" height="1" fill="#000" />
<rect x="396" y="126" width="1" height="2" fill="#000" />
<rect x="394" y="125" width="4" height="1" fill="#000" />
<rect x="400" y="125" width="1" height="1" fill="#000" />
<rect x="398" y="120" width="5" height="5" fill="#000" />
<rect x="399" y="121" width="3" height="3" fill="#fff" />
<rect x="404" y="117" width="1" height="1" fill="#0000a0" />
<rect x="404" y="124" width="1" height="2" fill="#0000a0" />
<rect x="403" y="118" width="4" height="6" fill="#0000a0" />
<rect x="409" y="125" width="1" height="1" fill="#000" />
<rect x="407" y="122" width="4" height="3" fill="#000" />
<rect x="408" y="123" width="2" height="1" fill="#fff" />
<rect x="413" y="126" width="1" height="3" fill="#0000a0" />
<rect x="413" y="132" width="1" height="1" fill="#0000a0" />
<rect x="411" y="129" width="5" height="3" fill="#0000a0" />
<rect x="418" y="120" width="1" height="2" fill="#000" />
<rect x="416" y="122" width="4" height="4" fill="#000" />
<rect x="417" y="123" width="2" height="2" fill="#fff" />
<rect x="422" y="122" width="1" height="1" fill="#0000a0" />
<rect x="422" y="127" width="1" height="2" fill="#0000a0" />
<rect x="420" y="123" width="5" height="4" fill="#0000a0" />
<rect x="426" y="123" width="1" height="3" fill="#000" />
<rect x="426" y="127" width="1" height="1" fill="#000" />
<rect x="425" y="126" width="4" height="1" fill="#000" />
<rect x="431" y="121" width="1" height="2" fill="#0000a0" />
<rect x="431" y="130" width="1" height="3" fill="#0000a0" />
<rect x="429" y="123" width="4" height="7" fill="#0000a0" />
<rect x="435" y="123" width="1" height="1" fill="#000" />
<rect x="435" y="130" width="1" height="4" fill="#000" />
<rect x="433" y="124" width="5" height="6" fill="#000" />
<rect x="434" y="125" width="3" height="4" fill="#fff" />
<rect x="438" y="114" width="4" height="4" fill="#000" />
<rect x="439" y="115" width="2" height="2" fill="#fff" />
<rect x="444" y="109" width="1" height="2" fill="#0000a0" />
<rect x="444" y="113" width="1" height="1" fill="#0000a0" />
<rect x="442" y="111" width="5" height="2" fill="#0000a0" />
<rect x="448" y="109" width="1" height="3" fill="#000" />
<rect x="447" y="105" width="4" height="4" fill="#000" />
<rect x="448" y="106" width="2" height="2" fill="#fff" />
<rect x="453" y="101" width="1" height="1" fill="#000" />
<rect x="453" y="105" width="1" height="3" fill="#000" />
<rect x="451" y="102" width="4" height="3" fill="#000" />
<rect x="452" y="103" width="2" height="1" fill="#fff" />
<rect x="457" y="97" width="1" height="2" fill="#000" />
<rect x="457" y="100" width="1" height="2" fill="#000" />
<rect x="455" y="99" width="5" height="1" fill="#000" />
<rect x="462" y="104" width="1" height="4" fill="#0000a0" />
<rect x="460" y="100" width="4" height="4" fill="#0000a0" />
<rect x="466" y="105" width="1" height="1" fill="#000" />
<rect x="464" y="98" width="5" height="7" fill="#000" />
<rect x="465" y="99" width="3" height="5" fill="#fff" />
<rect x="470" y="90" width="1" height="1" fill="#000" />
<rect x="470" y="95" width="1" height="1" fill="#000" />
<rect x="469" y="91" width="4" height="4" fill="#000" />
<rect x="470" y="92" width="2" height="2" fill="#fff" />
<rect x="475" y="94" width="1" height="1" fill="#0000a0" />
<rect x="475" y="98" width="1" height="2" fill="#0000a0" />
<rect x="473" y="95" width="4" height="3" fill="#0000a0" />
<rect x="479" y="94" width="1" height="1" fill="#0000a0" />
<rect x="479" y="97" width="1" height="2" fill="#0000a0" />
<rect x="477" y="95" width="5" height="2" fill="#0000a0" />
<rect x="484" y="89" width="1" height="2" fill="#000" />
<rect x="484" y="94" width="1" height="1" fill="#000" />
<rect x="482" y="91" width="4" height="3" fill="#000" />
<rect x="483" y="92" width="2" height="1" fill="#fff" />
<rect x="488" y="89" width="1" height="1" fill="#0000a0" />
<rect x="488" y="92" width="1" height="1" fill="#0000a0" />
<rect x="486" y="90" width="5" height="2" fill="#0000a0" />
<rect x="492" y="90" width="1" height="1" fill="#000" />
<rect x="492" y="92" width="1" height="2" fill="#000" />
<rect x="491" y="91" width="4" height="1" fill="#000" />
<rect x="497" y="89" width="1" height="1" fill="#000" />
<rect x="497" y="91" width="1" height="4" fill="#000" />
<rect x="495" y="90" width="4" height="1" fill="#000" />
<rect x="501" y="82" width="1" height="1" fill="#0000a0" />
<rect x="501" y="88" width="1" height="2" fill="#0000a0" />
<rect x="499" y="83" width="5" height="5" fill="#0000a0" />
<rect x="506" y="86" width="1" height="1" fill="#000" />
<rect x="506" y="88" width="1" height="6" fill="#000" />
<rect x="504" y="87" width="4" height="1" fill="#000" />
<rect x="510" y="80" width="1" height="1" fill="#000" />
<rect x="510" y="86" width="1" height="1" fill="#000" />
<rect x="508" y="81" width="5" height="5" fill="#000" />
<rect x="509" y="82" width="3" height="3" fill="#fff" />
<rect x="514" y="78" width="1" height="1" fill="#0000a0" />
<rect x="514" y="82" width="1" height="2" fill="#0000a0" />
<rect x="513" y="79" width="4" height="3" fill="#0000a0" />
<rect x="519" y="75" width="1" height="3" fill="#000" />
<rect x="517" y="78" width="4" height="2" fill="#000" />
<rect x="523" y="81" width="1" height="5" fill="#0000a0" />
<rect x="521" y="78" width="5" height="3" fill="#0000a0" />
<rect x="528" y="76" width="1" height="2" fill="#000" />
<rect x="528" y="81" width="1" height="1" fill="#000" />
<rect x="526" y="78" width="4" height="3" fill="#000" />
<rect x="527" y="79" width="2" height="1" fill="#fff" />
<rect x="532" y="74" width="1" height="1" fill="#0000a0" />
<rect x="532" y="77" width="1" height="1" fill="#0000a0" />
<rect x="530" y="75" width="5" height="2" fill="#0000a0" />
<rect x="536" y="72" width="1" height="2" fill="#000" />
<rect x="535" y="74" width="4" height="3" fill="#000" />
<rect x="536" y="75" width="2" height="1" fill="#fff" />
<rect x="541" y="71" width="1" height="1" fill="#000" />
<rect x="541" y="73" width="1" height="1" fill="#000" />
<rect x="539" y="72" width="4" height="1" fill="#000" />
<rect x="545" y="67" width="1" height="1" fill="#0000a0" />
<rect x="545" y="75" width="1" height="1" fill="#0000a0" />
<rect x="543" y="68" width="5" height="7" fill="#0000a0" />
<rect x="550" y="70" width="1" height="3" fill="#0000a0" />
<rect x="550" y="74" width="1" height="4" fill="#0000a0" />
<rect x="548" y="73" width="4" height="1" fill="#0000a0" />
<rect x="554" y="74" width="1" height="2" fill="#0000a0" />
<rect x="552" y="62" width="5" height="12" fill="#0000a0" />
<rect x="558" y="82" width="1" height="1" fill="#0000a0" />
<rect x="558" y="90" width="1" height="2" fill="#0000a0" />
<rect x="557" y="83" width="4" height="7" fill="#0000a0" />
</g>
<g clip-path="url(#plot)" fill="none" stroke-width="1.15" stroke-linejoin="round">
<polyline points="13.2,136.5 17.6,135.5 22.0,135.5 26.4,134.5 30.8,133.5 35.2,133.5 39.6,132.5 44.0,132.5 48.4,131.5 52.8,130.5 57.2,130.5 61.6,129.5 66.0,129.5 70.4,128.5 74.8,128.5 79.2,127.5 83.6,127.5 88.0,127.5 92.4,127.5 96.8,128.5 101.2,128.5 105.6,128.5 110.0,129.5 114.4,129.5 118.8,130.5 123.2,131.5 127.6,131.5 132.0,132.5 136.4,132.5 140.8,133.5 145.2,134.5 149.6,134.5 154.0,135.5 158.4,135.5 162.8,136.5 167.2,137.5 171.6,137.5 176.0,138.5 180.4,139.5 184.8,140.5 189.2,141.5 193.6,143.5 198.0,144.5 202.4,146.5 206.8,148.5 211.2,150.5 215.6,151.5 220.0,153.5 224.4,154.5 228.8,155.5 233.2,157.5 237.6,158.5 242.0,160.5 246.4,161.5 250.8,163.5 255.2,164.5 259.6,165.5 264.0,166.5 268.4,167.5 272.8,168.5 277.2,169.5 281.6,169.5 286.0,170.5 290.4,170.5 294.8,171.5 299.2,172.5 303.6,173.5 308.0,174.5 312.4,174.5 316.8,175.5 321.2,175.5 325.6,175.5 330.0,175.5 334.4,176.5 338.8,176.5 343.2,176.5 347.6,176.5 352.0,177.5 356.4,177.5 360.8,177.5 365.2,177.5 369.6,178.5 374.0,178.5 378.4,178.5 382.8,178.5 387.2,179.5 391.6,179.5 396.0,179.5 400.4,179.5 404.8,179.5 409.2,179.5 413.6,178.5 418.0,178.5 422.4,178.5 426.8,177.5 431.2,177.5 435.6,176.5 440.0,175.5 444.4,174.5 448.8,173.5 453.2,172.5 457.6,171.5 462.0,169.5 466.4,168.5 470.8,167.5 475.2,166.5 479.6,165.5 484.0,163.5 488.4,162.5 492.8,161.5 497.2,160.5 501.6,159.5 506.0,157.5 510.4,156.5 514.8,154.5 519.2,153.5 523.6,151.5 528.0,149.5 532.4,147.5 536.8,144.5 541.2,142.5 545.6,140.5 550.0,138.5 554.4,136.5 558.8,134.5" stroke="#0000ff"/>
<polyline points="13.2,125.5 17.6,126.5 22.0,126.5 26.4,125.5 30.8,125.5 35.2,125.5 39.6,124.5 44.0,125.5 48.4,124.5 52.8,123.5 57.2,122.5 61.6,121.5 66.0,120.5 70.4,120.5 74.8,120.5 79.2,121.5 83.6,122.5 88.0,123.5 92.4,125.5 96.8,127.5 101.2,129.5 105.6,130.5 110.0,132.5 114.4,134.5 118.8,137.5 123.2,140.5 127.6,142.5 132.0,146.5 136.4,148.5 140.8,151.5 145.2,154.5 149.6,156.5 154.0,159.5 158.4,162.5 162.8,164.5 167.2,167.5 171.6,169.5 176.0,172.5 180.4,175.5 184.8,178.5 189.2,180.5 193.6,182.5 198.0,185.5 202.4,189.5 206.8,193.5 211.2,197.5 215.6,199.5 220.0,201.5 224.4,203.5 228.8,204.5 233.2,204.5 237.6,206.5 242.0,208.5 246.4,210.5 250.8,212.5 255.2,213.5 259.6,214.5 264.0,214.5 268.4,215.5 272.8,216.5 277.2,217.5 281.6,217.5 286.0,217.5 290.4,216.5 294.8,216.5 299.2,215.5 303.6,215.5 308.0,213.5 312.4,209.5 316.8,204.5 321.2,199.5 325.6,197.5 330.0,193.5 334.4,190.5 338.8,186.5 343.2,184.5 347.6,180.5 352.0,177.5 356.4,172.5 360.8,169.5 365.2,165.5 369.6,163.5 374.0,160.5 378.4,158.5 382.8,155.5 387.2,152.5 391.6,150.5 396.0,148.5 400.4,145.5 404.8,143.5 409.2,140.5 413.6,138.5 418.0,136.5 422.4,135.5 426.8,134.5 431.2,134.5 435.6,133.5 440.0,132.5 444.4,131.5 448.8,130.5 453.2,128.5 457.6,126.5 462.0,124.5 466.4,122.5 470.8,120.5 475.2,119.5 479.6,117.5 484.0,115.5 488.4,113.5 492.8,112.5 497.2,110.5 501.6,109.5 506.0,107.5 510.4,105.5 514.8,104.5 519.2,102.5 523.6,100.5 528.0,98.5 532.4,96.5 536.8,94.5 541.2,92.5 545.6,90.5 550.0,88.5 554.4,87.5 558.8,86.5" stroke="#ff0000"/>
<polyline points="13.2,124.5 17.6,124.5 22.0,124.5 26.4,123.5 30.8,124.5 35.2,122.5 39.6,122.5 44.0,122.5 48.4,121.5 52.8,118.5 57.2,115.5 61.6,113.5 66.0,111.5 70.4,113.5 74.8,118.5 79.2,125.5 83.6,132.5 88.0,141.5 92.4,146.5 96.8,152.5 101.2,157.5 105.6,160.5 110.0,164.5 114.4,168.5 118.8,174.5 123.2,180.5 127.6,186.5 132.0,191.5 136.4,194.5 140.8,191.5 145.2,191.5 149.6,190.5 154.0,188.5 158.4,187.5 162.8,185.5 167.2,180.5 171.6,179.5 176.0,178.5 180.4,181.5 184.8,187.5 189.2,193.5 193.6,195.5 198.0,203.5 202.4,215.5 206.8,226.5 211.2,240.5 215.6,244.5 220.0,245.5 224.4,237.5 228.8,229.5 233.2,219.5 237.6,224.5 242.0,225.5 246.4,230.5 250.8,234.5 255.2,235.5 259.6,229.5 264.0,222.5 268.4,212.5 272.8,204.5 277.2,199.5 281.6,195.5 286.0,191.5 290.4,188.5 294.8,187.5 299.2,185.5 303.6,183.5 308.0,184.5 312.4,178.5 316.8,169.5 321.2,160.5 325.6,152.5 330.0,143.5 334.4,140.5 338.8,139.5 343.2,141.5 347.6,142.5 352.0,145.5 356.4,145.5 360.8,145.5 365.2,143.5 369.6,142.5 374.0,139.5 378.4,137.5 382.8,135.5 387.2,134.5 391.6,131.5 396.0,129.5 400.4,127.5 404.8,126.5 409.2,123.5 413.6,124.5 418.0,124.5 422.4,125.5 426.8,125.5 431.2,127.5 435.6,125.5 440.0,124.5 444.4,121.5 448.8,117.5 453.2,111.5 457.6,106.5 462.0,104.5 466.4,101.5 470.8,99.5 475.2,98.5 479.6,97.5 484.0,95.5 488.4,93.5 492.8,93.5 497.2,92.5 501.6,90.5 506.0,89.5 510.4,87.5 514.8,85.5 519.2,83.5 523.6,82.5 528.0,80.5 532.4,78.5 536.8,77.5 541.2,76.5 545.6,74.5 550.0,74.5 554.4,73.5 558.8,76.5" stroke="#1e8c1e"/>
</g>
<rect x="10.5" y="269.5" width="115" height="43" fill="rgba(236,236,236,0.88)" stroke="#9a9a9a" stroke-width="1" shape-rendering="crispEdges"/>
<rect x="10.5" y="324.5" width="146" height="15" fill="rgba(236,236,236,0.97)" stroke="#9a9a9a" stroke-width="1" shape-rendering="crispEdges"/>
<text x="11.51" y="25.00" font-family="'Liberation Sans','Noto Sans CJK JP',sans-serif" font-size="11.5" fill="#000" textLength="25.19" lengthAdjust="spacingAndGlyphs">日付</text>
<text x="40.75" y="24.00" font-family="'DejaVu Sans',sans-serif" font-size="13.5" fill="#000" textLength="81.91" lengthAdjust="spacingAndGlyphs">2025/08/01</text>
<text x="159.20" y="25.00" font-family="'Liberation Sans','Noto Sans CJK JP',sans-serif" font-size="11.5" fill="#000" textLength="23.50" lengthAdjust="spacingAndGlyphs">始値</text>
<text x="187.62" y="24.00" font-family="'DejaVu Sans',sans-serif" font-size="13.5" fill="#000" font-weight="bold" textLength="74.50" lengthAdjust="spacingAndGlyphs">20,830.64</text>
<text x="266.67" y="25.00" font-family="'Liberation Sans','Noto Sans CJK JP',sans-serif" font-size="11.5" fill="#000" textLength="23.63" lengthAdjust="spacingAndGlyphs">高値</text>
<text x="295.20" y="24.00" font-family="'DejaVu Sans',sans-serif" font-size="13.5" fill="#ff0000" font-weight="bold">20,865.63</text>
<text x="374.04" y="25.00" font-family="'Liberation Sans','Noto Sans CJK JP',sans-serif" font-size="11.5" fill="#000" textLength="24.46" lengthAdjust="spacingAndGlyphs">安値</text>
<text x="403.01" y="24.00" font-family="'DejaVu Sans',sans-serif" font-size="13.5" fill="#0a7d0a" font-weight="bold" textLength="75.50" lengthAdjust="spacingAndGlyphs">20,560.17</text>
<text x="483.30" y="25.00" font-family="'Liberation Sans','Noto Sans CJK JP',sans-serif" font-size="11.5" fill="#000">終値</text>
<text x="510.79" y="24.00" font-family="'DejaVu Sans',sans-serif" font-size="13.5" fill="#000" font-weight="bold" textLength="76.43" lengthAdjust="spacingAndGlyphs">20,650.13</text>
<text x="581.73" y="48.00" font-family="'DejaVu Sans',sans-serif" font-size="12" fill="#000" textLength="37.05" lengthAdjust="spacingAndGlyphs">22000</text>
<text x="581.73" y="82.00" font-family="'DejaVu Sans',sans-serif" font-size="12" fill="#000" textLength="37.05" lengthAdjust="spacingAndGlyphs">21000</text>
<text x="581.73" y="115.00" font-family="'DejaVu Sans',sans-serif" font-size="12" fill="#000" textLength="37.05" lengthAdjust="spacingAndGlyphs">20000</text>
<text x="581.73" y="148.00" font-family="'DejaVu Sans',sans-serif" font-size="12" fill="#000" textLength="37.05" lengthAdjust="spacingAndGlyphs">19000</text>
<text x="581.73" y="182.00" font-family="'DejaVu Sans',sans-serif" font-size="12" fill="#000" textLength="37.05" lengthAdjust="spacingAndGlyphs">18000</text>
<text x="581.73" y="215.00" font-family="'DejaVu Sans',sans-serif" font-size="12" fill="#000" textLength="37.05" lengthAdjust="spacingAndGlyphs">17000</text>
<text x="581.73" y="249.00" font-family="'DejaVu Sans',sans-serif" font-size="12" fill="#000" textLength="37.05" lengthAdjust="spacingAndGlyphs">16000</text>
<text x="581.73" y="282.00" font-family="'DejaVu Sans',sans-serif" font-size="12" fill="#000" textLength="37.05" lengthAdjust="spacingAndGlyphs">15000</text>
<text x="581.72" y="344.00" font-family="'DejaVu Sans',sans-serif" font-size="12" fill="#000" textLength="52.32" lengthAdjust="spacingAndGlyphs">1600000</text>
<text x="581.72" y="357.00" font-family="'DejaVu Sans',sans-serif" font-size="12" fill="#000" textLength="52.32" lengthAdjust="spacingAndGlyphs">1200000</text>
<text x="581.72" y="371.00" font-family="'DejaVu Sans',sans-serif" font-size="12" fill="#000" textLength="45.05" lengthAdjust="spacingAndGlyphs">800000</text>
<text x="582.70" y="384.00" font-family="'DejaVu Sans',sans-serif" font-size="12" fill="#000" textLength="44.05" lengthAdjust="spacingAndGlyphs">400000</text>
<text x="608.87" y="395.00" font-family="'DejaVu Sans',sans-serif" font-size="11" fill="#444" textLength="4.01" lengthAdjust="spacingAndGlyphs">(</text>
<text x="612.50" y="395.00" font-family="'Liberation Sans','Noto Sans CJK JP',sans-serif" font-size="10.5" fill="#444">万株</text>
<text x="633.47" y="395.00" font-family="'DejaVu Sans',sans-serif" font-size="11" fill="#444" textLength="4.01" lengthAdjust="spacingAndGlyphs">)</text>
<text x="95.75" y="321.00" font-family="'DejaVu Sans',sans-serif" font-size="9" fill="#000" textLength="7.17" lengthAdjust="spacingAndGlyphs">3</text>
<text x="95.75" y="406.00" font-family="'DejaVu Sans',sans-serif" font-size="9" fill="#000" textLength="7.17" lengthAdjust="spacingAndGlyphs">3</text>
<text x="188.90" y="321.00" font-family="'DejaVu Sans',sans-serif" font-size="9" fill="#000" textLength="6.65" lengthAdjust="spacingAndGlyphs">4</text>
<text x="188.90" y="406.00" font-family="'DejaVu Sans',sans-serif" font-size="9" fill="#000" textLength="6.65" lengthAdjust="spacingAndGlyphs">4</text>
<text x="279.88" y="321.00" font-family="'DejaVu Sans',sans-serif" font-size="9" fill="#000" textLength="7.02" lengthAdjust="spacingAndGlyphs">5</text>
<text x="279.88" y="406.00" font-family="'DejaVu Sans',sans-serif" font-size="9" fill="#000" textLength="7.02" lengthAdjust="spacingAndGlyphs">5</text>
<text x="373.90" y="321.00" font-family="'DejaVu Sans',sans-serif" font-size="9" fill="#000" textLength="6.65" lengthAdjust="spacingAndGlyphs">6</text>
<text x="373.90" y="406.00" font-family="'DejaVu Sans',sans-serif" font-size="9" fill="#000" textLength="6.65" lengthAdjust="spacingAndGlyphs">6</text>
<text x="460.18" y="321.00" font-family="'DejaVu Sans',sans-serif" font-size="9" fill="#000" textLength="8.17" lengthAdjust="spacingAndGlyphs">7</text>
<text x="460.18" y="406.00" font-family="'DejaVu Sans',sans-serif" font-size="9" fill="#000" textLength="8.17" lengthAdjust="spacingAndGlyphs">7</text>
<text x="557.55" y="321.00" font-family="'DejaVu Sans',sans-serif" font-size="9" fill="#000" textLength="7.74" lengthAdjust="spacingAndGlyphs">8</text>
<text x="557.55" y="406.00" font-family="'DejaVu Sans',sans-serif" font-size="9" fill="#000" textLength="7.74" lengthAdjust="spacingAndGlyphs">8</text>
<text x="90.97" y="444.00" font-family="'DejaVu Sans',sans-serif" font-size="11" fill="#000" textLength="13.07" lengthAdjust="spacingAndGlyphs">23</text>
<text x="278.97" y="444.00" font-family="'DejaVu Sans',sans-serif" font-size="11" fill="#000" textLength="13.03" lengthAdjust="spacingAndGlyphs">24</text>
<text x="468.69" y="444.00" font-family="'DejaVu Sans',sans-serif" font-size="11" fill="#000" textLength="14.12" lengthAdjust="spacingAndGlyphs">25</text>
<text x="42.22" y="92.00" font-family="'DejaVu Sans',sans-serif" font-size="12" fill="#000" textLength="29.00" lengthAdjust="spacingAndGlyphs">2/18</text>
<text x="28.20" y="104.00" font-family="'DejaVu Sans',sans-serif" font-size="12" fill="#000">20110.12</text>
<text x="10.21" y="150.00" font-family="'DejaVu Sans',sans-serif" font-size="12" fill="#000" textLength="56.95" lengthAdjust="spacingAndGlyphs">19141.15</text>
<text x="27.32" y="162.00" font-family="'DejaVu Sans',sans-serif" font-size="12" fill="#000" textLength="20.92" lengthAdjust="spacingAndGlyphs">2/3</text>
<text x="94.73" y="213.00" font-family="'DejaVu Sans',sans-serif" font-size="12" fill="#000" textLength="55.32" lengthAdjust="spacingAndGlyphs">17238.24</text>
<text x="108.36" y="225.00" font-family="'DejaVu Sans',sans-serif" font-size="12" fill="#000" textLength="28.03" lengthAdjust="spacingAndGlyphs">3/11</text>
<text x="151.93" y="153.00" font-family="'DejaVu Sans',sans-serif" font-size="12" fill="#000" textLength="28.89" lengthAdjust="spacingAndGlyphs">3/25</text>
<text x="138.62" y="165.00" font-family="'DejaVu Sans',sans-serif" font-size="12" fill="#000" textLength="55.94" lengthAdjust="spacingAndGlyphs">18281.14</text>
<text x="177.40" y="295.00" font-family="'DejaVu Sans',sans-serif" font-size="12" fill="#000">14784.03</text>
<text x="195.70" y="307.00" font-family="'DejaVu Sans',sans-serif" font-size="12" fill="#000" textLength="19.41" lengthAdjust="spacingAndGlyphs">4/7</text>
<text x="389.04" y="103.00" font-family="'DejaVu Sans',sans-serif" font-size="12" fill="#000" textLength="28.46" lengthAdjust="spacingAndGlyphs">6/11</text>
<text x="375.62" y="115.00" font-family="'DejaVu Sans',sans-serif" font-size="12" fill="#000" textLength="55.83" lengthAdjust="spacingAndGlyphs">19800.46</text>
<text x="406.93" y="143.00" font-family="'DejaVu Sans',sans-serif" font-size="12" fill="#000" textLength="55.53" lengthAdjust="spacingAndGlyphs">19334.98</text>
<text x="420.24" y="155.00" font-family="'DejaVu Sans',sans-serif" font-size="12" fill="#000" textLength="28.68" lengthAdjust="spacingAndGlyphs">6/23</text>
<text x="539.67" y="47.00" font-family="'DejaVu Sans',sans-serif" font-size="12" fill="#000" textLength="27.71" lengthAdjust="spacingAndGlyphs">7/31</text>
<g clip-path="url(#plot)"><text x="525.01" y="59.00" font-family="'DejaVu Sans',sans-serif" font-size="12" fill="#000" textLength="56.95" lengthAdjust="spacingAndGlyphs">21457.48</text></g>
<g clip-path="url(#plot)"><text x="529.01" y="102.00" font-family="'DejaVu Sans',sans-serif" font-size="12" fill="#000" textLength="56.95" lengthAdjust="spacingAndGlyphs">20560.17</text></g>
<text x="546.63" y="114.00" font-family="'DejaVu Sans',sans-serif" font-size="12" fill="#000" textLength="20.71" lengthAdjust="spacingAndGlyphs">8/1</text>
<text x="10.49" y="280.00" font-family="'DejaVu Sans',sans-serif" font-size="12" fill="#2e8b2e" textLength="36.09" lengthAdjust="spacingAndGlyphs">MA(5)</text>
<text x="10.46" y="294.00" font-family="'DejaVu Sans',sans-serif" font-size="12" fill="#ff3030" textLength="44.78" lengthAdjust="spacingAndGlyphs">MA(25)</text>
<text x="10.46" y="308.00" font-family="'DejaVu Sans',sans-serif" font-size="12" fill="#3a3aff" textLength="44.78" lengthAdjust="spacingAndGlyphs">MA(75)</text>
<text x="64.00" y="280.00" font-family="'DejaVu Sans',sans-serif" font-size="12" fill="#2e8b2e">21,035.83</text>
<text x="64.01" y="294.00" font-family="'DejaVu Sans',sans-serif" font-size="12" fill="#ff3030" textLength="60.67" lengthAdjust="spacingAndGlyphs">20,742.44</text>
<text x="64.00" y="308.00" font-family="'DejaVu Sans',sans-serif" font-size="12" fill="#3a3aff">19,306.57</text>
<text x="10.90" y="335.00" font-family="'Liberation Sans','Noto Sans CJK JP',sans-serif" font-size="12" fill="#3232c8">出来高</text>
<text x="56.48" y="335.00" font-family="'DejaVu Sans',sans-serif" font-size="12" fill="#3232c8" textLength="89.12" lengthAdjust="spacingAndGlyphs">8,411,904,800</text>
<text x="145.60" y="335.00" font-family="'Liberation Sans','Noto Sans CJK JP',sans-serif" font-size="12" fill="#3232c8" textLength="10.21" lengthAdjust="spacingAndGlyphs">株</text>
<g shape-rendering="crispEdges">
<rect x="10" y="448" width="570" height="1" fill="#000" />
<rect x="11" y="449" width="480" height="10" fill="url(#gd)" />
<rect x="491" y="449" width="1" height="10" fill="#000" />
<rect x="492" y="449" width="80" height="10" fill="url(#gl)" />
<rect x="572" y="449" width="1" height="10" fill="#000" />
<rect x="573" y="449" width="6" height="10" fill="url(#gd)" />
<rect x="579" y="449" width="1" height="10" fill="#000" />
<rect x="10" y="459" width="631" height="1" fill="#000" />
<rect x="484" y="411" width="1" height="37" fill="#1aa0d8" />
<rect x="579" y="411" width="1" height="37" fill="#1aa0d8" />
<rect x="478" y="415" width="14" height="30" fill="#000" />
<rect x="479" y="416" width="12" height="28" fill="url(#gh)" />
<rect x="572" y="415" width="14" height="30" fill="#000" />
<rect x="573" y="416" width="12" height="28" fill="url(#gh)" />
</g>
<polygon points="483,429 487,425 487,433" fill="#000"/>
<polygon points="582,429 578,425 578,433" fill="#000"/>
</svg>
</body></html>
